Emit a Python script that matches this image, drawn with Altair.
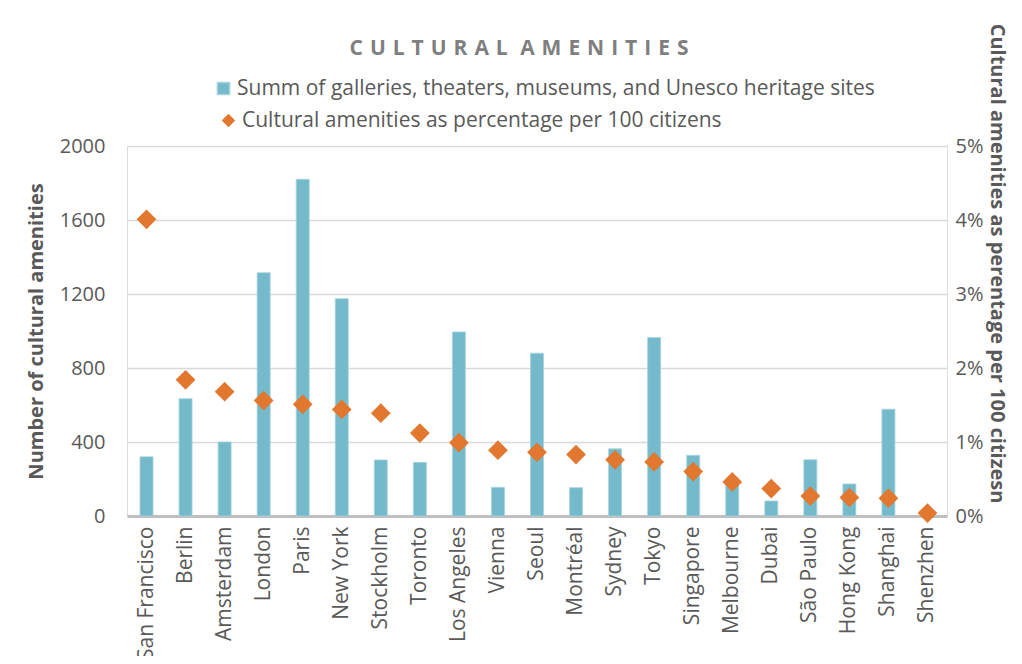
import altair as alt
import pandas as pd

cities = ["San Francisco", "Berlin", "Amsterdam", "London", "Paris", "New York",
          "Stockholm", "Toronto", "Los Angeles", "Vienna", "Seoul", "Montréal",
          "Sydney", "Tokyo", "Singapore", "Melbourne", "Dubai", "São Paulo",
          "Hong Kong", "Shanghai", "Shenzhen"]
amenities = [320, 634, 400, 1315, 1820, 1175, 303, 290, 995, 155, 880, 153,
             363, 965, 328, 170, 81, 304, 173, 577, 0]
pct = [0.0401, 0.0184, 0.0168, 0.0156, 0.0151, 0.0144, 0.0139, 0.0112, 0.0099,
       0.0089, 0.0086, 0.0083, 0.0076, 0.0073, 0.0060, 0.0046, 0.0037, 0.0027,
       0.0025, 0.0024, 0.0004]

bar_label = "Summ of galleries, theaters, museums, and Unesco heritage sites"
pt_label = "Cultural amenities as percentage per 100 citizens"

df = pd.DataFrame({"city": cities, "amenities": amenities, "pct": pct})

FONT = "Open Sans"
GRAY = "#595959"
TEAL = "#74BACB"
ORANGE = "#E2772F"

x_enc = alt.X("city:N", sort=None, title=None,
              scale=alt.Scale(paddingInner=0, paddingOuter=0),
              axis=alt.Axis(labelAngle=270, labelFontSize=21, labelColor=GRAY,
                            labelFont=FONT, labelPadding=10, ticks=False,
                            domainColor="#BFBFBF", domainWidth=3, grid=False))

bars = alt.Chart(df).mark_bar(size=13, color=TEAL, stroke="#A6D3DE",
                              strokeWidth=0.8).encode(
    x=x_enc,
    y=alt.Y("amenities:Q", title="Number of cultural amenities",
            scale=alt.Scale(domain=[0, 2000], nice=False),
            axis=alt.Axis(values=[0, 400, 800, 1200, 1600, 2000], format="d",
                          grid=True, gridColor="#D9D9D9", gridWidth=1.5,
                          domain=False, ticks=False, labelFontSize=20,
                          labelColor=GRAY, labelFont=FONT, labelPadding=22,
                          titleFontSize=20, titleFont=FONT, titleColor=GRAY,
                          titleFontWeight="bold", titlePadding=13)),
    color=alt.Color("series:N",
                    scale=alt.Scale(domain=[bar_label], range=[TEAL]),
                    legend=alt.Legend(title=None, orient="none", legendX=86,
                                      legendY=-68, symbolType="square",
                                      symbolSize=150, labelFontSize=21,
                                      labelFont=FONT, labelColor=GRAY,
                                      labelOffset=3, labelLimit=0)),
).transform_calculate(series=f"'{bar_label}'")

points = alt.Chart(df).mark_point(shape="diamond", filled=True, size=390,
                                  opacity=1).encode(
    x=alt.X("city:N", sort=None),
    y=alt.Y("pct:Q", title="Cultural amenities as perentage per 100 citizesn",
            scale=alt.Scale(domain=[0, 0.05], nice=False),
            axis=alt.Axis(orient="right", format=".0%",
                          values=[0, 0.01, 0.02, 0.03, 0.04, 0.05], grid=False,
                          domain=False, ticks=False, labelFontSize=20,
                          labelColor=GRAY, labelFont=FONT, labelPadding=8,
                          titleFontSize=20, titleFont=FONT, titleColor=GRAY,
                          titleFontWeight="bold", titlePadding=4, titleY=117)),
    color=alt.Color("series:N",
                    scale=alt.Scale(domain=[pt_label], range=[ORANGE]),
                    legend=alt.Legend(title=None, orient="none", legendX=91,
                                      legendY=-36, symbolType="diamond",
                                      symbolSize=180, labelFontSize=21,
                                      labelFont=FONT, labelColor=GRAY,
                                      labelOffset=3, labelLimit=0)),
).transform_calculate(series=f"'{pt_label}'")

GAP = "\u2009\u2009"
title_text = GAP.join("CULTURAL") + " " + GAP + GAP.join("AMENITIES")

chart = alt.layer(bars, points).resolve_scale(
    y="independent", color="independent"
).properties(
    width=820, height=370,
    title=alt.Title(title_text, fontSize=21, font=FONT, fontWeight="bold",
                    color="#7F7F7F", anchor="middle", frame="group",
                    offset=-36, dx=-18),
    autosize=alt.AutoSizeParams(type="none"),
    padding={"left": 119, "top": 138, "right": 67, "bottom": 140},
).configure_view(stroke=None).configure(background="white")

chart.save("out.html", embed_options={"renderer": "svg", "actions": False})
